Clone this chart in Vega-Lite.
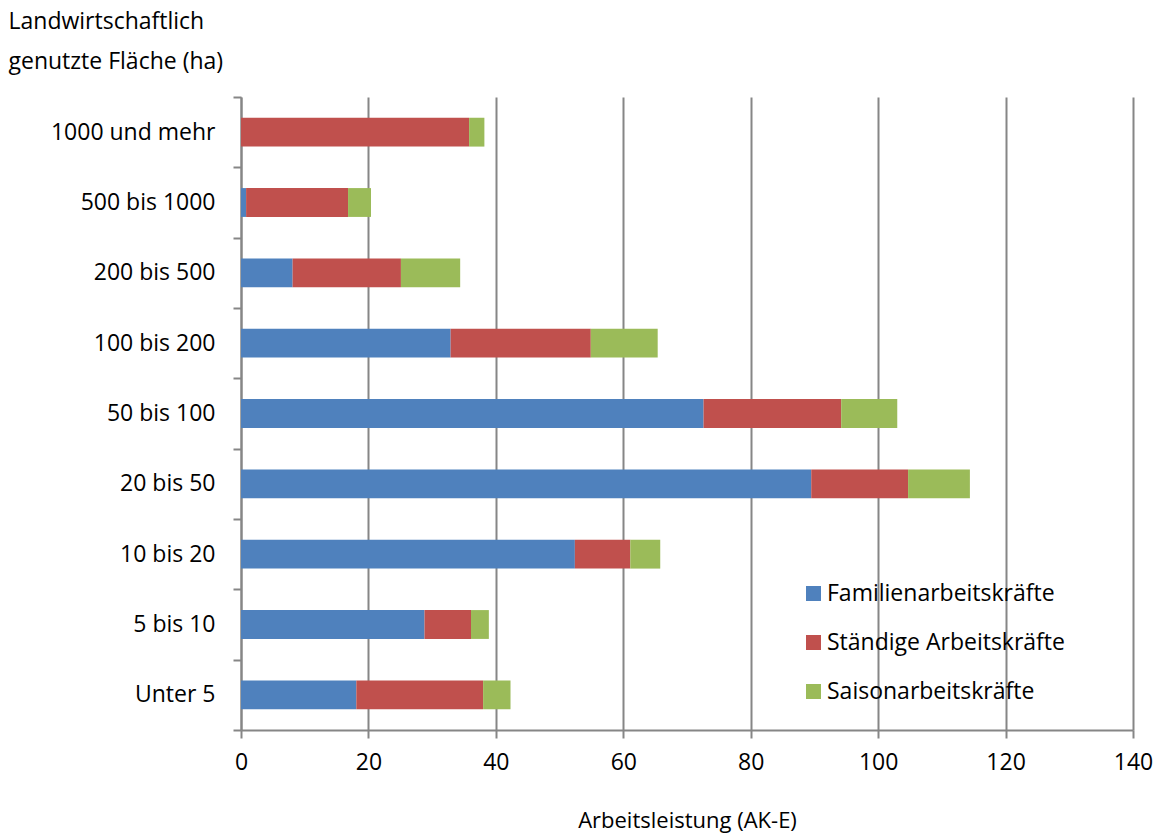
{
  "$schema": "https://vega.github.io/schema/vega-lite/v6.json",
  "width": 892,
  "height": 633,
  "autosize": "none",
  "padding": {"left": 241, "top": 97, "right": 24, "bottom": 108},
  "background": "white",
  "config": {
    "font": "Open Sans",
    "view": {"stroke": null}
  },
  "data": {
    "values": [
      {"flaeche": "1000 und mehr", "art": "Familienarbeitskräfte", "ord": 1, "ak": 0},
      {"flaeche": "1000 und mehr", "art": "Ständige Arbeitskräfte", "ord": 2, "ak": 35.8},
      {"flaeche": "1000 und mehr", "art": "Saisonarbeitskräfte", "ord": 3, "ak": 2.4},
      {"flaeche": "500 bis 1000", "art": "Familienarbeitskräfte", "ord": 1, "ak": 0.8},
      {"flaeche": "500 bis 1000", "art": "Ständige Arbeitskräfte", "ord": 2, "ak": 16.0},
      {"flaeche": "500 bis 1000", "art": "Saisonarbeitskräfte", "ord": 3, "ak": 3.6},
      {"flaeche": "200 bis 500", "art": "Familienarbeitskräfte", "ord": 1, "ak": 8.1},
      {"flaeche": "200 bis 500", "art": "Ständige Arbeitskräfte", "ord": 2, "ak": 17.0},
      {"flaeche": "200 bis 500", "art": "Saisonarbeitskräfte", "ord": 3, "ak": 9.3},
      {"flaeche": "100 bis 200", "art": "Familienarbeitskräfte", "ord": 1, "ak": 32.9},
      {"flaeche": "100 bis 200", "art": "Ständige Arbeitskräfte", "ord": 2, "ak": 22.0},
      {"flaeche": "100 bis 200", "art": "Saisonarbeitskräfte", "ord": 3, "ak": 10.5},
      {"flaeche": "50 bis 100", "art": "Familienarbeitskräfte", "ord": 1, "ak": 72.6},
      {"flaeche": "50 bis 100", "art": "Ständige Arbeitskräfte", "ord": 2, "ak": 21.6},
      {"flaeche": "50 bis 100", "art": "Saisonarbeitskräfte", "ord": 3, "ak": 8.8},
      {"flaeche": "20 bis 50", "art": "Familienarbeitskräfte", "ord": 1, "ak": 89.5},
      {"flaeche": "20 bis 50", "art": "Ständige Arbeitskräfte", "ord": 2, "ak": 15.2},
      {"flaeche": "20 bis 50", "art": "Saisonarbeitskräfte", "ord": 3, "ak": 9.7},
      {"flaeche": "10 bis 20", "art": "Familienarbeitskräfte", "ord": 1, "ak": 52.4},
      {"flaeche": "10 bis 20", "art": "Ständige Arbeitskräfte", "ord": 2, "ak": 8.7},
      {"flaeche": "10 bis 20", "art": "Saisonarbeitskräfte", "ord": 3, "ak": 4.7},
      {"flaeche": "5 bis 10", "art": "Familienarbeitskräfte", "ord": 1, "ak": 28.8},
      {"flaeche": "5 bis 10", "art": "Ständige Arbeitskräfte", "ord": 2, "ak": 7.3},
      {"flaeche": "5 bis 10", "art": "Saisonarbeitskräfte", "ord": 3, "ak": 2.8},
      {"flaeche": "Unter 5", "art": "Familienarbeitskräfte", "ord": 1, "ak": 18.1},
      {"flaeche": "Unter 5", "art": "Ständige Arbeitskräfte", "ord": 2, "ak": 19.9},
      {"flaeche": "Unter 5", "art": "Saisonarbeitskräfte", "ord": 3, "ak": 4.3}
    ]
  },
  "mark": {"type": "bar", "height": {"band": 0.41}},
  "encoding": {
    "y": {
      "field": "flaeche",
      "type": "nominal",
      "sort": ["1000 und mehr", "500 bis 1000", "200 bis 500", "100 bis 200", "50 bis 100", "20 bis 50", "10 bis 20", "5 bis 10", "Unter 5"],
      "scale": {"paddingInner": 0, "paddingOuter": 0},
      "axis": {
        "title": ["Landwirtschaftlich", "genutzte Fläche (ha)"],
        "titleAngle": 0,
        "titleAlign": "left",
        "titleBaseline": "top",
        "titleX": -233,
        "titleY": -87,
        "titleFontSize": 23,
        "titleFontWeight": "normal",
        "titleColor": "#000000",
        "titleLineHeight": 40,
        "tickBand": "extent",
        "tickSize": 8,
        "tickColor": "#868686",
        "tickWidth": 2,
        "domainColor": "#868686",
        "domainWidth": 2,
        "labelFontSize": 23,
        "labelColor": "#000000",
        "labelPadding": 18,
        "labelLimit": 0,
        "grid": false
      }
    },
    "x": {
      "field": "ak",
      "type": "quantitative",
      "stack": "zero",
      "scale": {"domain": [0, 140], "nice": false},
      "axis": {
        "title": "Arbeitsleistung (AK-E)",
        "values": [0, 20, 40, 60, 80, 100, 120, 140],
        "titleFontSize": 22,
        "titleFontWeight": "normal",
        "titleColor": "#000000",
        "titlePadding": 36,
        "labelFontSize": 23,
        "labelColor": "#000000",
        "labelPadding": 13,
        "labelFlush": false,
        "tickSize": 8,
        "tickColor": "#868686",
        "tickWidth": 2,
        "domainColor": "#868686",
        "domainWidth": 2,
        "grid": true,
        "gridColor": "#868686",
        "gridWidth": 2
      }
    },
    "color": {
      "field": "art",
      "type": "nominal",
      "scale": {
        "domain": ["Familienarbeitskräfte", "Ständige Arbeitskräfte", "Saisonarbeitskräfte"],
        "range": ["#4F81BD", "#C0504D", "#9BBB59"]
      },
      "legend": {
        "title": null,
        "orient": "none",
        "legendX": 561,
        "legendY": 485,
        "symbolType": "square",
        "symbolSize": 225,
        "symbolStrokeWidth": 0,
        "labelFontSize": 23,
        "labelColor": "#000000",
        "labelOffset": 2,
        "labelLimit": 0,
        "rowPadding": 25
      }
    },
    "order": {"field": "ord", "type": "quantitative"}
  }
}
